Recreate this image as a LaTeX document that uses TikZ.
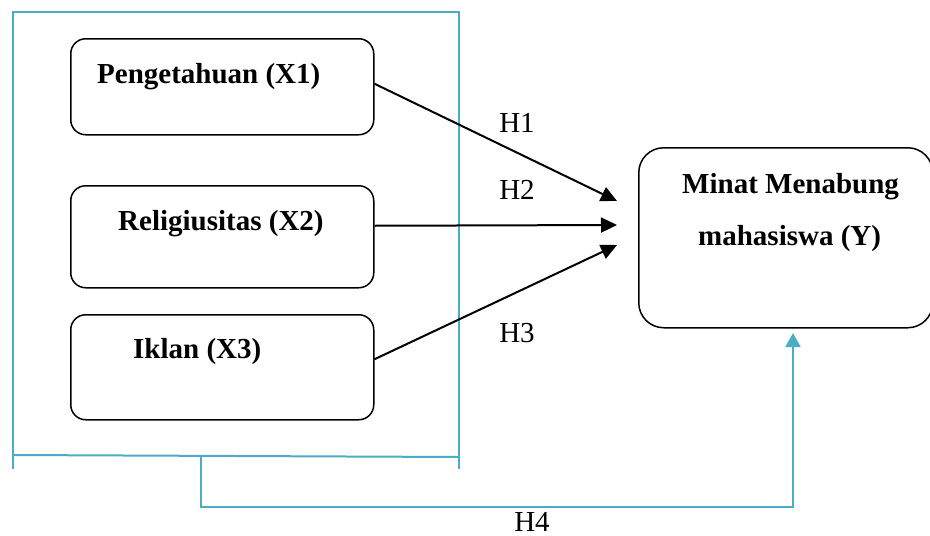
\documentclass[tikz,border=0pt]{standalone}
\usepackage{fontspec}
\setmainfont{Liberation Serif}
\usetikzlibrary{arrows.meta}
\definecolor{accent}{HTML}{4BACC6}
\tikzset{
  varbox/.style={draw=black, line width=1.5pt, rounded corners=15pt, inner sep=0pt, anchor=north west},
  lbl/.style={inner sep=0pt, anchor=base west, font=\fontsize{29}{34}\selectfont\bfseries},
  hlbl/.style={inner sep=0pt, font=\fontsize{29}{34}\selectfont},
  blk/.style={draw=black, line width=2pt, -{Triangle[length=16pt,width=15pt]}},
  blue/.style={draw=accent, line width=2pt},
}
\begin{document}
\begin{tikzpicture}[x=1pt,y=-1pt]
\useasboundingbox (0,0) rectangle (930,536);
% frame
\draw[blue] (13,469) -- (13,12) -- (459,12) -- (459,469);
\draw[blue] (13,455) -- (459,457);
% boxes
\node[varbox, minimum width=303pt, minimum height=96pt] (x1) at (70,38) {};
\node[varbox, minimum width=303pt, minimum height=102pt] (x2) at (70,185) {};
\node[varbox, minimum width=303pt, minimum height=105pt] (x3) at (70,314) {};
\node[varbox, rounded corners=25pt, minimum width=294pt, minimum height=180pt] (y) at (638,147) {};
% texts
\node[lbl] (t1) at (97,83) {Pengetahuan (X1)};
\node[lbl] (t2) at (118,230) {Religiusitas (X2)};
\node[lbl] (t3) at (133,358) {Iklan (X3)};
\node[lbl] (ty1) at (682,193) {Minat Menabung};
\node[lbl] (ty2) at (698,245) {mahasiswa (Y)};
% arrows
\coordinate (e1) at (617,201);
\coordinate (e2) at (617,225);
\coordinate (e3) at (617,245);
\draw[blk] ([yshift=3pt]x1.east) -- (e1);
\draw[blk] ([yshift=11pt]x2.east) -- (e2);
\draw[blk] ([yshift=8pt]x3.east) -- (e3);
\node[hlbl] (h1) at (517,123) {H1};
\node[hlbl] (h2) at (517,190) {H2};
\node[hlbl] (h3) at (517,333) {H3};
% H4
\coordinate (j) at (201,457);
\coordinate (e4) at (793,333);
\draw[blue, -{Triangle[length=14pt,width=15pt]}] (j) -- (201,507) -- (793,507) -- (e4);
\node[hlbl, anchor=base] (h4) at (532,531) {H4};
\end{tikzpicture}
\end{document}
